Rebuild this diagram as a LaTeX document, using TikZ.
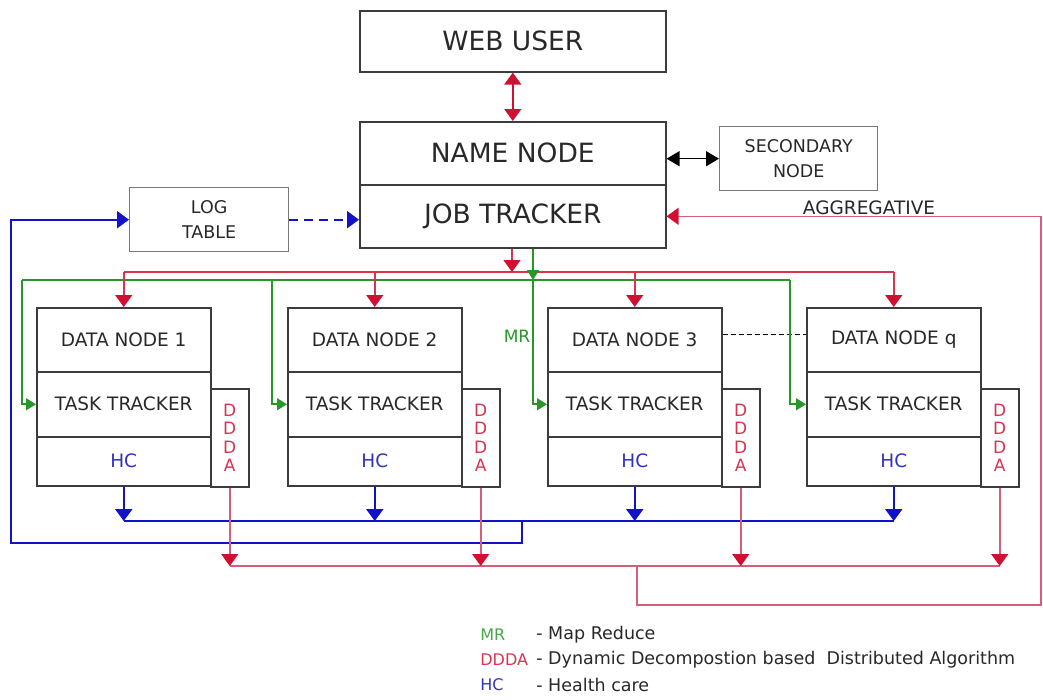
\documentclass[tikz,border=0pt]{standalone}
\usepackage{fontspec}
\setmainfont{DejaVu Sans}
\usetikzlibrary{arrows.meta}

\definecolor{boxline}{RGB}{60,60,60}
\definecolor{lightline}{RGB}{120,120,120}
\definecolor{labgray}{RGB}{40,40,40}
\definecolor{ddred}{RGB}{208,16,50}
\definecolor{ddline}{RGB}{212,95,120}
\definecolor{hcblue}{RGB}{18,18,200}
\definecolor{hctext}{RGB}{50,50,190}
\definecolor{mrgreen}{RGB}{40,150,40}

\tikzset{every picture/.style={line width=0.75pt}}
\tikzset{
  bigbox/.style={draw=boxline, line width=1.6pt, inner sep=0pt, anchor=north west, text=labgray, font=\fontsize{26.5}{30}\selectfont},
  smallbox/.style={draw=boxline, line width=1.5pt, inner sep=0pt, anchor=north west, text=labgray, font=\fontsize{18.5}{22}\selectfont},
  sidebox/.style={draw=lightline, line width=1.4pt, inner sep=0pt, anchor=north west, text=labgray, align=center, font=\fontsize{17.5}{25.5}\selectfont},
  ddbox/.style={draw=boxline, line width=1.5pt, inner sep=0pt, anchor=north west, minimum width=38, minimum height=98, align=center, text=ddred!85, font=\fontsize{17}{18.3}\selectfont},
  redtip/.style={-{Triangle[length=12pt,width=17pt,color=ddred]}},
  bluetip/.style={-{Triangle[length=12pt,width=17pt,color=hcblue]}},
  greentip/.style={-{Triangle[length=10pt,width=12pt,color=mrgreen]}},
  distline/.style={draw=ddred!85, line width=1.5pt},
  ddaline/.style={draw=ddline, line width=1.6pt},
  hcline/.style={draw=hcblue, line width=2.3pt},
  mrline/.style={draw=mrgreen, line width=1.6pt},
  legend/.style={anchor=west, inner sep=0pt, font=\fontsize{17.5}{20}\selectfont}
}

\begin{document}
\begin{tikzpicture}[x=1pt,y=1pt,yscale=-1,xscale=1]
\useasboundingbox (0,0) rectangle (1043,699);

%Shape: Rectangle -- web user, name node, job tracker
\node [bigbox, minimum width=306, minimum height=61] (web) at (359,10) {WEB USER};
\node [bigbox, minimum width=306, minimum height=63] (nn) at (359,121) {NAME NODE};
\node [bigbox, minimum width=306, minimum height=63] (jt) at (359,184) {JOB TRACKER};

%Shape: Rectangle -- side boxes
\node [sidebox, minimum width=158, minimum height=64] (sec) at (719,126) {SECONDARY\\NODE};
\node [sidebox, minimum width=159, minimum height=64] (log) at (129,187) {LOG\\TABLE};

%Shape: Rectangle -- data node 1
\node [smallbox, minimum width=174, minimum height=64] (dn1) at (36,307) {DATA NODE 1};
\node [smallbox, minimum width=174, minimum height=65] (tt1) at (36,371) {TASK TRACKER};
\node [smallbox, minimum width=174, minimum height=49, text=hctext] (hc1) at (36,436) {HC};
\node [ddbox] (dd1) at (210,388) {D\\D\\D\\A};

%Shape: Rectangle -- data node 2
\node [smallbox, minimum width=174, minimum height=64] (dn2) at (287,307) {DATA NODE 2};
\node [smallbox, minimum width=174, minimum height=65] (tt2) at (287,371) {TASK TRACKER};
\node [smallbox, minimum width=174, minimum height=49, text=hctext] (hc2) at (287,436) {HC};
\node [ddbox] (dd2) at (461,388) {D\\D\\D\\A};

%Shape: Rectangle -- data node 3
\node [smallbox, minimum width=174, minimum height=64] (dn3) at (547,307) {DATA NODE 3};
\node [smallbox, minimum width=174, minimum height=65] (tt3) at (547,371) {TASK TRACKER};
\node [smallbox, minimum width=174, minimum height=49, text=hctext] (hc3) at (547,436) {HC};
\node [ddbox] (dd3) at (721,388) {D\\D\\D\\A};

%Shape: Rectangle -- data node q
\node [smallbox, minimum width=174, minimum height=64] (dnq) at (806,307) {DATA NODE q};
\node [smallbox, minimum width=174, minimum height=65] (ttq) at (806,371) {TASK TRACKER};
\node [smallbox, minimum width=174, minimum height=49, text=hctext] (hcq) at (806,436) {HC};
\node [ddbox] (ddq) at (980,388) {D\\D\\D\\A};

% bus and corner points
\coordinate (rbus) at (512,272);
\coordinate (gbus) at (533,280);
\coordinate (hbus) at (0,521);
\coordinate (dbus) at (0,566);
\coordinate (hloop) at (522,543);
\coordinate (lft) at (11,0);
\coordinate (aloop) at (637,605);
\coordinate (rgt) at (1041,0);

%Straight Lines -- top arrows
\draw [ddred, line width=1.4pt, {Triangle[length=12pt,width=17pt]}-{Triangle[length=12pt,width=17pt]}] (web.south) -- (nn.north);
\draw [black, line width=1.5pt, {Triangle[length=13pt,width=15pt]}-{Triangle[length=13pt,width=15pt]}] (nn.east |- sec.west) -- (sec.west);
\draw [hcline, bluetip, dash pattern=on 9pt off 6pt] (log.east) -- (log.east -| jt.west);
\draw [black, line width=1.2pt, dash pattern=on 5pt off 3pt] ([yshift=-5pt]dn3.east) -- ([yshift=-5pt]dnq.west);

%Straight Lines -- map reduce (green)
\draw [mrline] ([xshift=-14pt]tt1.west |- gbus) -- ([xshift=-16pt]ttq.west |- gbus);
\draw [mrline, greentip] ([xshift=-14pt]tt1.west |- gbus) -- ([xshift=-14pt]tt1.west) -- (tt1.west);
\draw [mrline, greentip] ([xshift=-15pt]tt2.west |- gbus) -- ([xshift=-15pt]tt2.west) -- (tt2.west);
\draw [mrline, greentip] ([xshift=-14pt]tt3.west |- gbus) -- ([xshift=-14pt]tt3.west) -- (tt3.west);
\draw [mrline, greentip] ([xshift=-16pt]ttq.west |- gbus) -- ([xshift=-16pt]ttq.west) -- (ttq.west);

%Straight Lines -- job tracker to data nodes (red)
\draw [distline] (dn1.north |- rbus) -- (dnq.north |- rbus);
\draw [distline, redtip] (jt.south -| rbus) -- (rbus);
\draw [distline, redtip] (dn1.north |- rbus) -- (dn1.north);
\draw [distline, redtip] (dn2.north |- rbus) -- (dn2.north);
\draw [distline, redtip] (dn3.north |- rbus) -- (dn3.north);
\draw [distline, redtip] (dnq.north |- rbus) -- (dnq.north);
\draw [mrline, greentip] (jt.south -| gbus) -- (gbus);

%Straight Lines -- health care (blue)
\draw [hcline] (hc1.south |- hbus) -- (hcq.south |- hbus);
\draw [hcline, bluetip] (hc1.south) -- (hc1.south |- hbus);
\draw [hcline, bluetip] (hc2.south) -- (hc2.south |- hbus);
\draw [hcline, bluetip] (hc3.south) -- (hc3.south |- hbus);
\draw [hcline, bluetip] (hcq.south) -- (hcq.south |- hbus);
\draw [hcline, bluetip] (hloop |- hbus) -- (hloop) -- (hloop -| lft) -- (lft |- log.west) -- (log.west);

%Straight Lines -- ddda (red)
\draw [ddaline] (dd1.south |- dbus) -- (ddq.south |- dbus);
\draw [ddaline, redtip] (dd1.south) -- (dd1.south |- dbus);
\draw [ddaline, redtip] (dd2.south) -- (dd2.south |- dbus);
\draw [ddaline, redtip] (dd3.south) -- (dd3.south |- dbus);
\draw [ddaline, redtip] (ddq.south) -- (ddq.south |- dbus);
\draw [ddaline, redtip] (aloop |- dbus) -- (aloop) -- (aloop -| rgt) -- (rgt |- jt.east) -- (jt.east);

% Text Node
\node [inner sep=0pt, text=labgray, font=\fontsize{18.5}{22}\selectfont] (agg) at (869,208) {AGGREGATIVE};
% Text Node
\node [inner sep=0pt, text=mrgreen, font=\fontsize{17}{20}\selectfont] (mr) at (517,336) {MR};

% Text Node -- legend
\node [legend, text=mrgreen!85, font=\fontsize{16}{20}\selectfont] (kmr) at (480,635) {MR};
\node [legend, text=labgray] (dmr) at (536,635) {- Map Reduce};
\node [legend, text=ddred!85, font=\fontsize{16}{20}\selectfont] (kdd) at (480,660) {DDDA};
\node [legend, text=labgray] (ddd) at (536,660) {- Dynamic Decompostion based~ Distributed Algorithm};
\node [legend, text=hctext, font=\fontsize{16}{20}\selectfont] (khc) at (480,685) {HC};
\node [legend, text=labgray] (dhc) at (536,685) {- Health care};

\end{tikzpicture}
\end{document}
